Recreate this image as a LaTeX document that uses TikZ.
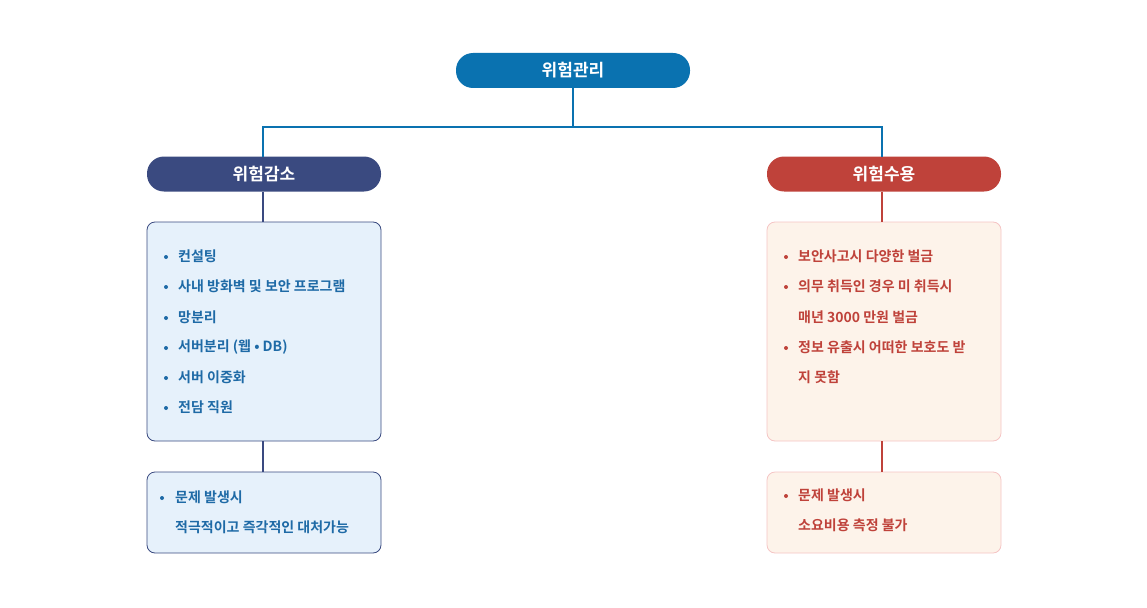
\documentclass[tikz,border=0pt]{standalone}
\usepackage{fontspec}
\setmainfont{Noto Sans CJK KR Bold}
\definecolor{topc}{HTML}{0A72B0}
\definecolor{navy}{HTML}{3A4A80}
\definecolor{redc}{HTML}{BF423A}
\definecolor{bluet}{HTML}{1E6AA6}
\definecolor{lbfill}{HTML}{E6F1FB}
\definecolor{rbfill}{HTML}{FDF3EA}
\definecolor{rbdraw}{HTML}{F5C4C4}
\begin{document}
\begin{tikzpicture}[x=1pt,y=-1pt,
 pill/.style={rounded corners=17pt,minimum width=234pt,minimum height=35pt,text=white,font=\fontsize{17}{20}\selectfont,inner sep=0},
 lbox/.style={draw=navy,fill=lbfill,rounded corners=8pt,line width=0.8pt},
 rbox/.style={draw=rbdraw,fill=rbfill,rounded corners=8pt,line width=0.8pt},
 lt/.style={anchor=west,text=bluet,font=\fontsize{14}{16}\selectfont,inner sep=0},
 rt/.style={anchor=west,text=redc,font=\fontsize{14}{16}\selectfont,inner sep=0},
 bl/.style={circle,inner sep=0,minimum size=4pt}]
\useasboundingbox (0,0) rectangle (1147,607);
\node[pill,fill=topc] (top) at (573,70.5) {위험관리};
\node[pill,fill=navy] (l) at (264,174) {위험감소};
\node[pill,fill=redc] (r) at (884,174) {위험수용};
\draw[topc,line width=1.2pt] (top.south) -- (573,127) -- (263,127) -- (263,157);
\draw[topc,line width=1.2pt] (573,127) -- (882,127) -- (882,157);
\draw[lbox] (147,222) rectangle (381,441);
\draw[lbox] (147,472) rectangle (381,553);
\draw[rbox] (767,222) rectangle (1001,441);
\draw[rbox] (767,472) rectangle (1001,553);
\coordinate (lb1t) at (263,222); \coordinate (lb1b) at (263,441); \coordinate (lb2t) at (263,472);
\coordinate (rb1t) at (882,222); \coordinate (rb1b) at (882,441); \coordinate (rb2t) at (882,472);
\draw[navy,line width=1.2pt] (l.south -| lb1t) -- (lb1t);
\draw[navy,line width=1.2pt] (lb1b) -- (lb2t);
\draw[redc,line width=1.2pt] (r.south -| rb1t) -- (rb1t);
\draw[redc,line width=1.2pt] (rb1b) -- (rb2t);
\foreach \y/\t [count=\i] in {256/컨설팅,286/사내 방화벽 및 보안 프로그램,317/망분리,347/{서버분리 (웹 • DB)},377/서버 이중화,407/전담 직원}{
 \node[bl,fill=bluet] (lbul\i) at (166,\y+1) {};
 \node[lt] (ltx\i) at (178,\y) {\t};}
\node[bl,fill=bluet] (lbb) at (162,498) {};
\node[lt] (lb1) at (175,497) {문제 발생시};
\node[lt] (lb2) at (175,527) {적극적이고 즉각적인 대처가능};
\foreach \y/\t [count=\i] in {256/보안사고시 다양한 벌금,286/의무 취득인 경우 미 취득시,347/정보 유출시 어떠한 보호도 받}{
 \node[bl,fill=redc] (rbul\i) at (786,\y+1) {};}
\node[rt] (rt1) at (798,256) {보안사고시 다양한 벌금};
\node[rt] (rt2) at (798,286) {의무 취득인 경우 미 취득시};
\node[rt] (rt3) at (798,317) {매년 3000 만원 벌금};
\node[rt] (rt4) at (798,347) {정보 유출시 어떠한 보호도 받};
\node[rt] (rt5) at (798,377) {지 못함};
\node[bl,fill=redc] (rbb) at (786,496) {};
\node[rt] (rb1) at (798,495) {문제 발생시};
\node[rt] (rb2) at (798,525) {소요비용 측정 불가};
\end{tikzpicture}
\end{document}
